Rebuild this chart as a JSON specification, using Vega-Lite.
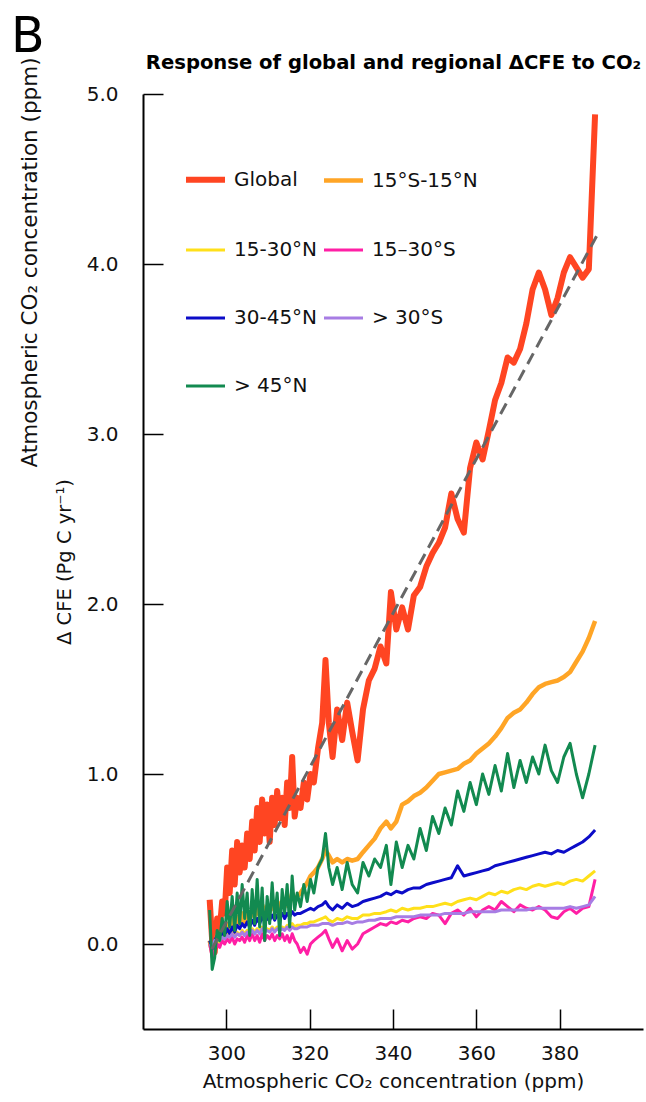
{
  "$schema": "https://vega.github.io/schema/vega-lite/v6.json",
  "width": 500,
  "height": 935,
  "autosize": {"type": "none"},
  "padding": {"left": 143, "top": 94, "right": 3, "bottom": 73},
  "background": "white",
  "config": {
    "font": "DejaVu Sans",
    "view": {"stroke": null},
    "axis": {"grid": false, "labelFlush": false, "labelOverlap": false}
  },
  "title": {
    "text": "B",
    "anchor": "start",
    "frame": "bounds",
    "fontSize": 49,
    "fontWeight": "normal",
    "color": "#000",
    "baseline": "alphabetic",
    "offset": 4,
    "dx": -8,
    "dy": 53
  },
  "datasets": {
    "names": [
      {"key": "g", "region": "Global"},
      {"key": "eq", "region": "15°S-15°N"},
      {"key": "n15", "region": "15-30°N"},
      {"key": "s15", "region": "15–30°S"},
      {"key": "n30", "region": "30-45°N"},
      {"key": "s30", "region": "> 30°S"},
      {"key": "n45", "region": "> 45°N"}
    ],
    "fit": [
      {"co2": 296.5, "cfe": -0.03},
      {"co2": 389.0, "cfe": 4.17}
    ],
    "series": [
      {"co2": 296.0, "g": 0.26, "eq": 0.02, "n15": 0.00, "s15": 0.00, "n30": 0.02, "s30": 0.00, "n45": 0.20},
      {"co2": 296.6, "g": 0.02, "eq": -0.05, "n15": -0.04, "s15": -0.08, "n30": -0.03, "s30": -0.02, "n45": -0.15},
      {"co2": 297.2, "g": -0.05, "eq": -0.02, "n15": 0.02, "s15": -0.04, "n30": 0.02, "s30": 0.02, "n45": -0.08},
      {"co2": 297.8, "g": 0.15, "eq": 0.05, "n15": 0.03, "s15": 0.00, "n30": 0.05, "s30": 0.03, "n45": 0.08},
      {"co2": 298.4, "g": 0.08, "eq": 0.03, "n15": 0.01, "s15": -0.02, "n30": 0.03, "s30": 0.02, "n45": 0.02},
      {"co2": 299.0, "g": 0.25, "eq": 0.08, "n15": 0.04, "s15": 0.02, "n30": 0.07, "s30": 0.04, "n45": 0.15},
      {"co2": 299.6, "g": 0.18, "eq": 0.05, "n15": 0.03, "s15": 0.00, "n30": 0.05, "s30": 0.03, "n45": 0.05},
      {"co2": 300.2, "g": 0.45, "eq": 0.12, "n15": 0.06, "s15": 0.03, "n30": 0.09, "s30": 0.05, "n45": 0.25},
      {"co2": 300.8, "g": 0.30, "eq": 0.08, "n15": 0.04, "s15": 0.01, "n30": 0.06, "s30": 0.04, "n45": 0.10},
      {"co2": 301.4, "g": 0.55, "eq": 0.15, "n15": 0.07, "s15": 0.04, "n30": 0.10, "s30": 0.06, "n45": 0.28},
      {"co2": 302.0, "g": 0.35, "eq": 0.10, "n15": 0.05, "s15": 0.00, "n30": 0.07, "s30": 0.04, "n45": 0.08},
      {"co2": 302.6, "g": 0.60, "eq": 0.16, "n15": 0.07, "s15": 0.03, "n30": 0.11, "s30": 0.06, "n45": 0.30},
      {"co2": 303.2, "g": 0.42, "eq": 0.12, "n15": 0.05, "s15": 0.02, "n30": 0.09, "s30": 0.05, "n45": 0.12},
      {"co2": 303.8, "g": 0.58, "eq": 0.18, "n15": 0.08, "s15": 0.04, "n30": 0.12, "s30": 0.07, "n45": 0.35},
      {"co2": 304.4, "g": 0.45, "eq": 0.13, "n15": 0.06, "s15": 0.01, "n30": 0.10, "s30": 0.05, "n45": 0.15},
      {"co2": 305.0, "g": 0.65, "eq": 0.19, "n15": 0.08, "s15": 0.05, "n30": 0.13, "s30": 0.07, "n45": 0.30},
      {"co2": 305.6, "g": 0.50, "eq": 0.15, "n15": 0.06, "s15": 0.02, "n30": 0.10, "s30": 0.06, "n45": 0.05},
      {"co2": 306.2, "g": 0.72, "eq": 0.20, "n15": 0.09, "s15": 0.06, "n30": 0.14, "s30": 0.08, "n45": 0.32},
      {"co2": 306.8, "g": 0.55, "eq": 0.16, "n15": 0.07, "s15": 0.02, "n30": 0.11, "s30": 0.06, "n45": 0.12},
      {"co2": 307.4, "g": 0.80, "eq": 0.22, "n15": 0.09, "s15": 0.05, "n30": 0.15, "s30": 0.08, "n45": 0.38},
      {"co2": 308.0, "g": 0.60, "eq": 0.17, "n15": 0.07, "s15": 0.01, "n30": 0.12, "s30": 0.06, "n45": 0.10},
      {"co2": 308.6, "g": 0.85, "eq": 0.23, "n15": 0.10, "s15": 0.06, "n30": 0.16, "s30": 0.09, "n45": 0.33},
      {"co2": 309.2, "g": 0.65, "eq": 0.18, "n15": 0.08, "s15": 0.02, "n30": 0.13, "s30": 0.07, "n45": 0.02},
      {"co2": 309.8, "g": 0.82, "eq": 0.22, "n15": 0.09, "s15": 0.05, "n30": 0.15, "s30": 0.08, "n45": 0.28},
      {"co2": 310.4, "g": 0.60, "eq": 0.19, "n15": 0.08, "s15": 0.03, "n30": 0.14, "s30": 0.07, "n45": 0.12},
      {"co2": 311.0, "g": 0.86, "eq": 0.24, "n15": 0.10, "s15": 0.06, "n30": 0.17, "s30": 0.09, "n45": 0.36},
      {"co2": 311.6, "g": 0.70, "eq": 0.20, "n15": 0.08, "s15": 0.02, "n30": 0.14, "s30": 0.07, "n45": 0.15},
      {"co2": 312.2, "g": 0.90, "eq": 0.25, "n15": 0.10, "s15": 0.05, "n30": 0.17, "s30": 0.09, "n45": 0.30},
      {"co2": 312.8, "g": 0.74, "eq": 0.21, "n15": 0.09, "s15": 0.03, "n30": 0.15, "s30": 0.08, "n45": 0.05},
      {"co2": 313.4, "g": 0.86, "eq": 0.25, "n15": 0.10, "s15": 0.06, "n30": 0.18, "s30": 0.09, "n45": 0.32},
      {"co2": 314.0, "g": 0.70, "eq": 0.22, "n15": 0.09, "s15": 0.02, "n30": 0.15, "s30": 0.08, "n45": 0.18},
      {"co2": 314.6, "g": 0.95, "eq": 0.27, "n15": 0.11, "s15": 0.05, "n30": 0.18, "s30": 0.10, "n45": 0.35},
      {"co2": 315.2, "g": 0.80, "eq": 0.24, "n15": 0.10, "s15": 0.01, "n30": 0.16, "s30": 0.08, "n45": 0.10},
      {"co2": 315.8, "g": 1.10, "eq": 0.30, "n15": 0.12, "s15": 0.06, "n30": 0.19, "s30": 0.10, "n45": 0.40},
      {"co2": 316.4, "g": 0.75, "eq": 0.26, "n15": 0.10, "s15": 0.02, "n30": 0.17, "s30": 0.09, "n45": 0.20},
      {"co2": 317.0, "g": 0.86, "eq": 0.28, "n15": 0.11, "s15": 0.00, "n30": 0.18, "s30": 0.09, "n45": 0.30},
      {"co2": 317.8, "g": 0.80, "eq": 0.30, "n15": 0.11, "s15": -0.05, "n30": 0.18, "s30": 0.10, "n45": 0.22},
      {"co2": 318.6, "g": 0.95, "eq": 0.33, "n15": 0.12, "s15": -0.02, "n30": 0.19, "s30": 0.10, "n45": 0.35},
      {"co2": 319.4, "g": 0.85, "eq": 0.36, "n15": 0.12, "s15": -0.06, "n30": 0.20, "s30": 0.10, "n45": 0.25},
      {"co2": 320.2, "g": 1.00, "eq": 0.40, "n15": 0.13, "s15": 0.00, "n30": 0.21, "s30": 0.11, "n45": 0.38},
      {"co2": 321.0, "g": 0.95, "eq": 0.42, "n15": 0.13, "s15": 0.02, "n30": 0.20, "s30": 0.11, "n45": 0.30},
      {"co2": 322.0, "g": 1.15, "eq": 0.45, "n15": 0.14, "s15": 0.04, "n30": 0.22, "s30": 0.11, "n45": 0.45},
      {"co2": 323.0, "g": 1.30, "eq": 0.50, "n15": 0.15, "s15": 0.06, "n30": 0.23, "s30": 0.12, "n45": 0.50},
      {"co2": 323.8, "g": 1.67, "eq": 0.55, "n15": 0.16, "s15": 0.08, "n30": 0.25, "s30": 0.12, "n45": 0.65},
      {"co2": 324.6, "g": 1.30, "eq": 0.52, "n15": 0.14, "s15": 0.03, "n30": 0.22, "s30": 0.12, "n45": 0.45},
      {"co2": 325.5, "g": 1.10, "eq": 0.48, "n15": 0.13, "s15": -0.02, "n30": 0.20, "s30": 0.11, "n45": 0.35},
      {"co2": 326.6, "g": 1.38, "eq": 0.50, "n15": 0.15, "s15": 0.03, "n30": 0.23, "s30": 0.12, "n45": 0.45},
      {"co2": 327.8, "g": 1.20, "eq": 0.48, "n15": 0.14, "s15": -0.04, "n30": 0.21, "s30": 0.12, "n45": 0.32},
      {"co2": 329.0, "g": 1.42, "eq": 0.50, "n15": 0.16, "s15": 0.02, "n30": 0.24, "s30": 0.13, "n45": 0.48},
      {"co2": 330.2, "g": 1.25, "eq": 0.49, "n15": 0.15, "s15": -0.03, "n30": 0.22, "s30": 0.12, "n45": 0.35},
      {"co2": 331.5, "g": 1.08, "eq": 0.50, "n15": 0.15, "s15": 0.00, "n30": 0.23, "s30": 0.13, "n45": 0.30},
      {"co2": 332.8, "g": 1.38, "eq": 0.54, "n15": 0.17, "s15": 0.06, "n30": 0.25, "s30": 0.13, "n45": 0.48},
      {"co2": 334.2, "g": 1.55, "eq": 0.58, "n15": 0.17, "s15": 0.08, "n30": 0.26, "s30": 0.14, "n45": 0.40},
      {"co2": 335.6, "g": 1.62, "eq": 0.62, "n15": 0.18, "s15": 0.10, "n30": 0.27, "s30": 0.14, "n45": 0.50},
      {"co2": 337.0, "g": 1.75, "eq": 0.68, "n15": 0.18, "s15": 0.12, "n30": 0.28, "s30": 0.15, "n45": 0.45},
      {"co2": 338.4, "g": 1.65, "eq": 0.72, "n15": 0.19, "s15": 0.11, "n30": 0.30, "s30": 0.15, "n45": 0.58},
      {"co2": 339.5, "g": 2.07, "eq": 0.68, "n15": 0.20, "s15": 0.13, "n30": 0.29, "s30": 0.15, "n45": 0.35},
      {"co2": 340.8, "g": 1.85, "eq": 0.72, "n15": 0.19, "s15": 0.12, "n30": 0.31, "s30": 0.16, "n45": 0.60},
      {"co2": 342.2, "g": 1.98, "eq": 0.82, "n15": 0.21, "s15": 0.14, "n30": 0.30, "s30": 0.16, "n45": 0.45},
      {"co2": 343.6, "g": 1.85, "eq": 0.84, "n15": 0.20, "s15": 0.13, "n30": 0.32, "s30": 0.16, "n45": 0.58},
      {"co2": 345.0, "g": 2.05, "eq": 0.87, "n15": 0.21, "s15": 0.15, "n30": 0.33, "s30": 0.16, "n45": 0.50},
      {"co2": 346.5, "g": 2.10, "eq": 0.89, "n15": 0.21, "s15": 0.16, "n30": 0.33, "s30": 0.17, "n45": 0.68},
      {"co2": 348.0, "g": 2.22, "eq": 0.92, "n15": 0.22, "s15": 0.15, "n30": 0.35, "s30": 0.17, "n45": 0.55},
      {"co2": 349.5, "g": 2.30, "eq": 0.96, "n15": 0.22, "s15": 0.18, "n30": 0.36, "s30": 0.17, "n45": 0.75},
      {"co2": 351.0, "g": 2.36, "eq": 1.00, "n15": 0.23, "s15": 0.17, "n30": 0.37, "s30": 0.17, "n45": 0.65},
      {"co2": 352.5, "g": 2.45, "eq": 1.01, "n15": 0.24, "s15": 0.12, "n30": 0.38, "s30": 0.18, "n45": 0.80},
      {"co2": 354.0, "g": 2.65, "eq": 1.02, "n15": 0.23, "s15": 0.18, "n30": 0.39, "s30": 0.18, "n45": 0.70},
      {"co2": 355.5, "g": 2.50, "eq": 1.03, "n15": 0.25, "s15": 0.20, "n30": 0.46, "s30": 0.18, "n45": 0.90},
      {"co2": 357.0, "g": 2.42, "eq": 1.06, "n15": 0.26, "s15": 0.17, "n30": 0.40, "s30": 0.18, "n45": 0.78},
      {"co2": 358.5, "g": 2.80, "eq": 1.08, "n15": 0.27, "s15": 0.21, "n30": 0.41, "s30": 0.19, "n45": 0.95},
      {"co2": 360.0, "g": 2.95, "eq": 1.12, "n15": 0.26, "s15": 0.16, "n30": 0.42, "s30": 0.19, "n45": 0.82},
      {"co2": 361.5, "g": 2.85, "eq": 1.15, "n15": 0.28, "s15": 0.20, "n30": 0.43, "s30": 0.19, "n45": 1.00},
      {"co2": 363.0, "g": 3.02, "eq": 1.18, "n15": 0.30, "s15": 0.22, "n30": 0.44, "s30": 0.19, "n45": 0.88},
      {"co2": 364.5, "g": 3.20, "eq": 1.22, "n15": 0.29, "s15": 0.20, "n30": 0.46, "s30": 0.19, "n45": 1.05},
      {"co2": 366.0, "g": 3.30, "eq": 1.27, "n15": 0.31, "s15": 0.25, "n30": 0.47, "s30": 0.20, "n45": 0.90},
      {"co2": 367.5, "g": 3.45, "eq": 1.33, "n15": 0.30, "s15": 0.22, "n30": 0.48, "s30": 0.20, "n45": 1.12},
      {"co2": 369.0, "g": 3.42, "eq": 1.36, "n15": 0.32, "s15": 0.19, "n30": 0.49, "s30": 0.20, "n45": 0.92},
      {"co2": 370.5, "g": 3.50, "eq": 1.38, "n15": 0.33, "s15": 0.23, "n30": 0.50, "s30": 0.20, "n45": 1.08},
      {"co2": 372.0, "g": 3.65, "eq": 1.42, "n15": 0.32, "s15": 0.21, "n30": 0.51, "s30": 0.20, "n45": 0.95},
      {"co2": 373.5, "g": 3.85, "eq": 1.47, "n15": 0.34, "s15": 0.20, "n30": 0.52, "s30": 0.21, "n45": 1.10},
      {"co2": 375.0, "g": 3.95, "eq": 1.51, "n15": 0.35, "s15": 0.22, "n30": 0.53, "s30": 0.21, "n45": 1.00},
      {"co2": 376.5, "g": 3.85, "eq": 1.53, "n15": 0.34, "s15": 0.20, "n30": 0.54, "s30": 0.21, "n45": 1.17},
      {"co2": 378.0, "g": 3.70, "eq": 1.54, "n15": 0.35, "s15": 0.16, "n30": 0.53, "s30": 0.21, "n45": 1.02},
      {"co2": 379.5, "g": 3.80, "eq": 1.55, "n15": 0.36, "s15": 0.15, "n30": 0.55, "s30": 0.21, "n45": 0.95},
      {"co2": 381.0, "g": 3.95, "eq": 1.57, "n15": 0.35, "s15": 0.19, "n30": 0.54, "s30": 0.21, "n45": 1.10},
      {"co2": 382.5, "g": 4.04, "eq": 1.60, "n15": 0.37, "s15": 0.21, "n30": 0.56, "s30": 0.22, "n45": 1.18},
      {"co2": 384.0, "g": 3.98, "eq": 1.66, "n15": 0.38, "s15": 0.18, "n30": 0.58, "s30": 0.21, "n45": 1.00},
      {"co2": 385.5, "g": 3.92, "eq": 1.72, "n15": 0.37, "s15": 0.21, "n30": 0.60, "s30": 0.22, "n45": 0.86},
      {"co2": 387.0, "g": 3.97, "eq": 1.80, "n15": 0.40, "s15": 0.22, "n30": 0.63, "s30": 0.23, "n45": 1.00},
      {"co2": 388.5, "g": 4.88, "eq": 1.90, "n15": 0.43, "s15": 0.38, "n30": 0.67, "s30": 0.28, "n45": 1.17}
    ]
  },
  "layer": [
    {
      "data": {"name": "series"},
      "transform": [
        {"fold": ["g", "eq", "n15", "s15", "n30", "s30", "n45"], "as": ["key", "cfe"]},
        {"lookup": "key", "from": {"data": {"name": "names"}, "key": "key", "fields": ["region"]}}
      ],
      "mark": {"type": "line", "strokeJoin": "round"},
      "encoding": {
        "x": {
          "field": "co2",
          "type": "quantitative",
          "scale": {"domain": [280, 400], "nice": false, "zero": false},
          "axis": {
            "orient": "bottom",
            "title": "Atmospheric CO₂ concentration (ppm)",
            "values": [300, 320, 340, 360, 380],
            "format": "d",
            "tickSize": -20,
            "tickWidth": 1.5,
            "tickColor": "#000",
            "domainColor": "#000",
            "domainWidth": 2,
            "labelFontSize": 20,
            "labelColor": "#111",
            "labelPadding": 34,
            "titleFontSize": 20,
            "titleFontWeight": "normal",
            "titleColor": "#111",
            "titlePadding": 8
          }
        },
        "y": {
          "field": "cfe",
          "type": "quantitative",
          "scale": {"domain": [-0.5, 5], "nice": false, "zero": false},
          "axis": {
            "orient": "left",
            "title": "Δ CFE (Pg C yr⁻¹)",
            "values": [0, 1, 2, 3, 4, 5],
            "format": ".1f",
            "tickSize": -20,
            "tickWidth": 1.5,
            "tickColor": "#000",
            "domainColor": "#000",
            "domainWidth": 2,
            "labelFontSize": 20,
            "labelColor": "#111",
            "labelPadding": 45,
            "titleFontSize": 19.5,
            "titleFontWeight": "normal",
            "titleColor": "#111",
            "titlePadding": 12
          }
        },
        "color": {
          "field": "region",
          "type": "nominal",
          "scale": {
            "domain": ["Global", "15°S-15°N", "15-30°N", "15–30°S", "30-45°N", "> 30°S", "> 45°N"],
            "range": ["#ff4522", "#ffa526", "#ffe01a", "#ff1fa5", "#0c0cc8", "#a77de4", "#128a50"]
          },
          "legend": {
            "title": null,
            "orient": "none",
            "direction": "horizontal",
            "legendX": 40,
            "legendY": 63,
            "columns": 2,
            "gridAlign": "each",
            "padding": 0,
            "symbolType": "stroke",
            "symbolSize": 1521,
            "labelFontSize": 20,
            "labelColor": "#111",
            "labelOffset": 6,
            "labelLimit": 300,
            "columnPadding": -3,
            "rowPadding": 37
          }
        },
        "strokeWidth": {
          "field": "region",
          "type": "nominal",
          "scale": {
            "type": "ordinal",
            "domain": ["Global", "15°S-15°N", "15-30°N", "15–30°S", "30-45°N", "> 30°S", "> 45°N"],
            "range": [6, 4.5, 3, 3, 3, 3, 3]
          },
          "legend": {
            "title": null,
            "orient": "none",
            "direction": "horizontal",
            "legendX": 40,
            "legendY": 63,
            "columns": 2,
            "gridAlign": "each",
            "padding": 0,
            "symbolType": "stroke",
            "symbolSize": 1521,
            "labelFontSize": 20,
            "labelColor": "#111",
            "labelOffset": 6,
            "labelLimit": 300,
            "columnPadding": -3,
            "rowPadding": 37
          }
        }
      }
    },
    {
      "data": {"name": "fit"},
      "mark": {"type": "line", "strokeDash": [12, 7], "color": "#666666", "strokeWidth": 3},
      "encoding": {
        "x": {
          "field": "co2",
          "type": "quantitative",
          "scale": {"domain": [280, 400], "nice": false, "zero": false},
          "axis": {
            "orient": "top",
            "title": "Response of global and regional ΔCFE to CO₂",
            "domain": false,
            "ticks": false,
            "labels": false,
            "titleFontSize": 19.6,
            "titleFontWeight": "bold",
            "titleColor": "#000",
            "titleBaseline": "alphabetic",
            "titleY": -26
          }
        },
        "y": {
          "field": "cfe",
          "type": "quantitative",
          "scale": {"domain": [-0.5, 5], "nice": false, "zero": false},
          "axis": {
            "orient": "left",
            "title": "Atmospheric CO₂ concentration (ppm)",
            "domain": false,
            "ticks": false,
            "labels": false,
            "titleFontSize": 21.5,
            "titleFontWeight": "normal",
            "titleColor": "#111",
            "titleBaseline": "alphabetic",
            "titleAngle": 270,
            "titleX": -107,
            "titleY": 168
          }
        }
      }
    }
  ],
  "resolve": {"axis": {"x": "independent", "y": "independent"}}
}
